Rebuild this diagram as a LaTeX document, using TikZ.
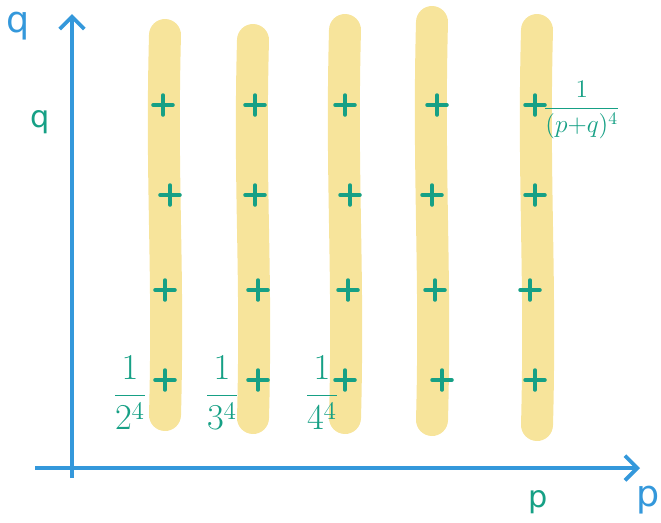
\documentclass[tikz,border=0pt]{standalone}
\usepackage{amsmath}
\usepackage{fontspec}
\setmainfont{DejaVu Sans}
\usetikzlibrary{arrows.meta, positioning}
\definecolor{axisblue}{RGB}{52, 152, 219}
\definecolor{markgreen}{RGB}{22, 160, 133}
\definecolor{bandyellow}{RGB}{247, 228, 155}
\tikzset{
	axis/.style={draw=axisblue, line width=2.2pt, -{Straight Barb[length=7pt, width=14pt]}},
	band/.style={draw=bandyellow, line width=0.64cm, line cap=round},
	tick/.style={draw=markgreen, line width=2pt, line cap=round},
	lbl/.style={text=markgreen, font=\huge, inner sep=0pt},
	axlbl/.style={text=axisblue, font=\huge, inner sep=0pt}
}
\begin{document}
\begin{tikzpicture}[x=0.02cm, y=-0.02cm]
		\useasboundingbox (0,0) rectangle (661,522);
		% columns
		\foreach \x/\t/\b in {165/35/415, 253/40/418, 345/30/418, 432/22/420, 537/30/425}
			\draw[band] (\x,\t) .. controls (\x-4,\t+150) and (\x+4,\b-150) .. (\x,\b);
		% axes
		\coordinate (o1) at (72,478);
		\coordinate (qtip) at (72,14);
		\coordinate (o2) at (35,468);
		\coordinate (ptip) at (640,468);
		\draw[axis] (o1) -- (qtip);
		\draw[axis] (o2) -- (ptip);
		\node[axlbl] (qax) at (18,26) {q};
		\node[axlbl] (pax) at (648,500) {p};
		\node[lbl, font=\LARGE] (qrow) at (40,122) {q};
		\node[lbl, font=\LARGE] (pcol) at (538,502) {p};
		% grid marks
		\foreach \x/\y in {163/105, 255/105, 345/105, 437/105, 535/105,
			170/195, 255/195, 350/195, 432/195, 535/195,
			165/290, 258/290, 348/290, 435/290, 530/290,
			165/380, 258/380, 345/380, 442/380, 535/380}
		{
			\draw[tick] (\x-10,\y) -- (\x+10,\y);
			\draw[tick] (\x,\y-10) -- (\x,\y+10);
		}
		% weights
		\node[lbl] (w2) at (130,393) {$\dfrac{1}{2^4}$};
		\node[lbl] (w3) at (222,393) {$\dfrac{1}{3^4}$};
		\node[lbl] (w4) at (322,393) {$\dfrac{1}{4^4}$};
		\node[lbl, font=\Large, anchor=west] (wpq) at (543,110) {$\dfrac{1}{(p{+}q)^4}$};
\end{tikzpicture}
\end{document}
